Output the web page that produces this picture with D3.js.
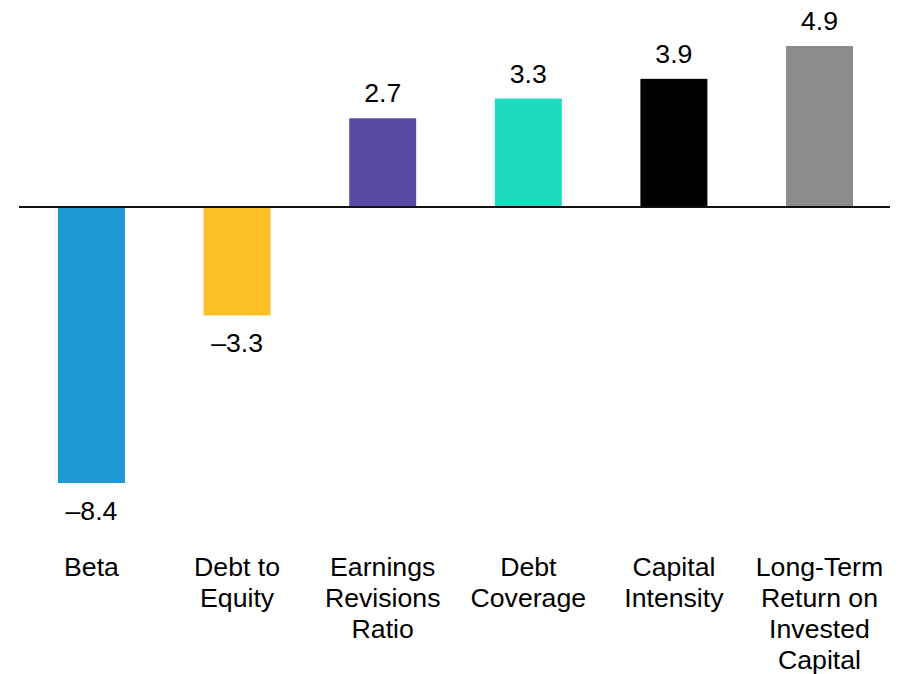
<!DOCTYPE html>
<html>
<head>
<meta charset="utf-8">
<script src="https://cdn.jsdelivr.net/npm/d3@7"></script>
<style>
  html, body { margin: 0; padding: 0; background: #fff; }
  svg { display: block; font-family: "Liberation Sans", Arial, sans-serif; }
</style>
</head>
<body>
<svg id="chart"></svg>
<script>
// data
const categories = [
    ["Beta"],
    ["Debt to", "Equity"],
    ["Earnings", "Revisions", "Ratio"],
    ["Debt", "Coverage"],
    ["Capital", "Intensity"],
    ["Long-Term", "Return on", "Invested", "Capital"]
];
const values = [-8.4, -3.3, 2.7, 3.3, 3.9, 4.9];
const colors = ["#1f99d6", "#fdbf28", "#5a4aa6", "#1fd9c1", "#000000", "#8c8c8c"];

const W = 903, H = 674;
const svg = d3.select("#chart").attr("width", W).attr("height", H);

const keys = categories.map((d) => d.join(" "));

const x = d3.scaleBand()
    .domain(keys)
    .range([18.7, 892.3])
    .paddingInner(0.54)
    .paddingOuter(0.27);

const y = d3.scaleLinear()
    .domain([-8.4, 4.9])
    .range([483, 46]);

const fmt = (v) => (v < 0 ? "\u2013" : "") + Math.abs(v).toFixed(1);

// bars
svg.selectAll("rect.bar")
    .data(values)
    .enter()
    .append("rect")
    .attr("class", "bar")
    .attr("x", (d, i) => x(keys[i]))
    .attr("width", x.bandwidth())
    .attr("y", (d) => Math.min(y(d), y(0)))
    .attr("height", (d) => Math.abs(y(d) - y(0)))
    .attr("fill", (d, i) => colors[i]);

// zero line
svg.append("line")
    .attr("x1", 19)
    .attr("x2", 890)
    .attr("y1", y(0))
    .attr("y2", y(0))
    .attr("stroke", "#111")
    .attr("stroke-width", 2);

// value labels
svg.selectAll("text.value")
    .data(values)
    .enter()
    .append("text")
    .attr("class", "value")
    .attr("x", (d, i) => x(keys[i]) + x.bandwidth() / 2)
    .attr("y", (d) => d >= 0 ? y(d) - 16 : y(d) + 37)
    .attr("text-anchor", "middle")
    .attr("font-size", 26.67)
    .attr("fill", "#000")
    .text(fmt);

// category labels
const cat = svg.selectAll("text.cat")
    .data(categories)
    .enter()
    .append("text")
    .attr("class", "cat")
    .attr("text-anchor", "middle")
    .attr("font-size", 26.67)
    .attr("fill", "#000");

cat.selectAll("tspan")
    .data((d, i) => d.map((t) => ({ t: t, i: i })))
    .enter()
    .append("tspan")
    .attr("x", (d) => x(keys[d.i]) + x.bandwidth() / 2)
    .attr("y", (d, j) => 576 + j * 31)
    .text((d) => d.t);
</script>
</body>
</html>
